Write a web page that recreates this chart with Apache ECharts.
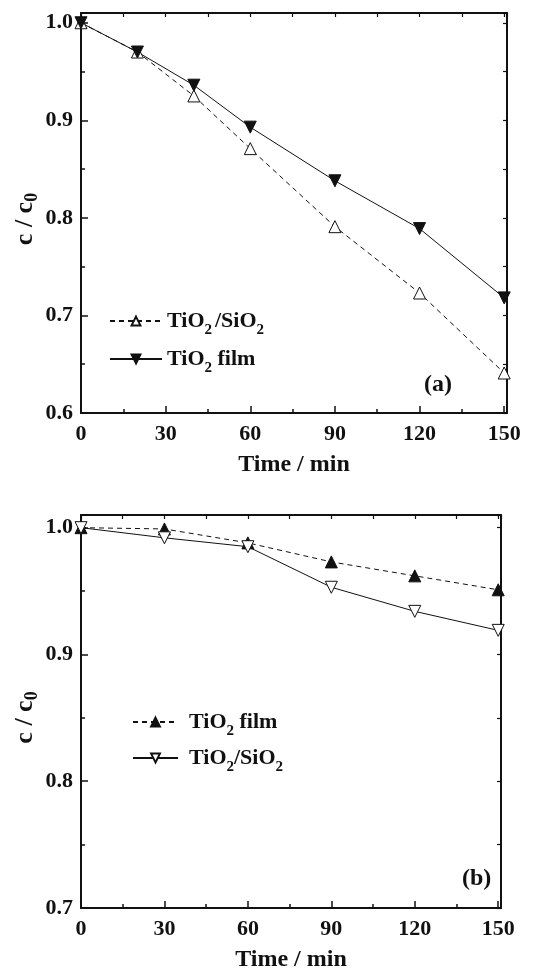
<!DOCTYPE html>
<html>
<head>
<meta charset="utf-8">
<script src="https://cdn.jsdelivr.net/npm/echarts@6/dist/echarts.min.js"></script>
<style>
  html, body { margin: 0; padding: 0; background: #fff; }
  #chart { width: 535px; height: 969px; }
</style>
</head>
<body>
<div id="chart"></div>
<script>
// Panel (a): decolourisation, TiO2/SiO2 vs TiO2 film
const timesA = [0, 20, 40, 60, 90, 120, 150];
const sio2A  = [1.0, 0.970, 0.925, 0.871, 0.791, 0.723, 0.641];
const filmA  = [1.0, 0.970, 0.936, 0.893, 0.838, 0.789, 0.718];

// Panel (b)
const timesB = [0, 30, 60, 90, 120, 150];
const filmB  = [1.0, 0.999, 0.988, 0.973, 0.962, 0.951];
const sio2B  = [1.0, 0.992, 0.985, 0.953, 0.934, 0.919];

// Tick labels
const xTickLabels  = [0, 30, 60, 90, 120, 150];
const yTickLabelsA = [0.6, 0.7, 0.8, 0.9, 1.0];
const yTickLabelsB = [0.7, 0.8, 0.9, 1.0];

const FONT = '"Liberation Serif", "Times New Roman", serif';
const INK = '#111';

const pairs = (xs, ys) => xs.map((x, i) => [x, ys[i]]);

const textRich = (size, lh) => {
  const sub = { fontFamily: FONT, fontWeight: 'bold', fontSize: Math.round(size * 0.68), color: INK, lineHeight: 14, verticalAlign: 'bottom' };
  return {
    n: { fontFamily: FONT, fontWeight: 'bold', fontSize: size, color: INK, lineHeight: lh, verticalAlign: 'middle' },
    s: sub,
    p: Object.assign({}, sub, { padding: [0, 3, 0, 0] })
  };
};

const legendText = {
  aSio2: '{n|TiO}{p|2}{n|/SiO}{s|2}',
  aFilm: '{n|TiO}{s|2}{n| film}',
  bFilm: '{n|TiO}{s|2}{n| film}',
  bSio2: '{n|TiO}{s|2}{n|/SiO}{s|2}'
};

function xAxes(gridIndex, labelMargin, nameGap) {
  return [
    {
      gridIndex, type: 'value', position: 'bottom', min: 0, max: 151, interval: 30,
      name: 'Time / min', nameLocation: 'middle', nameGap, nameMoveOverlap: false,
      nameTextStyle: { fontFamily: FONT, fontWeight: 'bold', fontSize: 24, color: INK },
      axisLine: { onZero: false, lineStyle: { color: INK, width: 2 } },
      axisTick: { inside: true, length: 7, lineStyle: { color: INK, width: 1.5 } },
      minorTick: { show: true, splitNumber: 2, length: 4, lineStyle: { color: INK, width: 1.5 } },
      splitLine: { show: false },
      axisLabel: {
        fontFamily: FONT, fontWeight: 'bold', fontSize: 22, color: INK, margin: labelMargin,
        showMaxLabel: true,
        formatter: v => xTickLabels.includes(Math.round(v * 1000) / 1000) ? String(v) : ''
      }
    },
    {
      gridIndex, type: 'value', position: 'top', min: 0, max: 151, interval: 15,
      axisLine: { onZero: false, lineStyle: { color: INK, width: 2 } },
      axisTick: { inside: true, length: 4, lineStyle: { color: INK, width: 1.2 } },
      axisLabel: { show: false }, splitLine: { show: false }
    }
  ];
}

function yAxes(gridIndex, min, labels, nameGap) {
  return [
    {
      gridIndex, type: 'value', position: 'left', min, max: 1.01, interval: 0.1,
      name: '{n|c / c}{s|0}', nameLocation: 'middle', nameGap, nameRotate: 90, nameMoveOverlap: false,
      nameTextStyle: { rich: textRich(26, 32), padding: [0, 12, 0, 0] },
      axisLine: { onZero: false, lineStyle: { color: INK, width: 2 } },
      axisTick: { inside: true, length: 7, lineStyle: { color: INK, width: 1.5 } },
      minorTick: { show: true, splitNumber: 2, length: 4, lineStyle: { color: INK, width: 1.5 } },
      splitLine: { show: false },
      axisLabel: {
        fontFamily: FONT, fontWeight: 'bold', fontSize: 22, color: INK, margin: 8,
        formatter: v => {
          const r = Math.round(v * 100) / 100;
          return labels.some(l => Math.abs(l - r) < 1e-6) ? r.toFixed(1) : '';
        }
      }
    },
    {
      gridIndex, type: 'value', position: 'right', min, max: 1.01, interval: 0.05,
      axisLine: { onZero: false, lineStyle: { color: INK, width: 2 } },
      axisTick: { inside: true, length: 4, lineStyle: { color: INK, width: 1.2 } },
      axisLabel: { show: false }, splitLine: { show: false }
    }
  ];
}

function lineSeries(id, xIdx, yIdx, data, dashed, filled, down) {
  return {
    name: id, type: 'line', xAxisIndex: xIdx, yAxisIndex: yIdx,
    data, clip: false, symbol: 'triangle', symbolSize: 12,
    symbolRotate: down ? 180 : 0,
    lineStyle: { color: INK, width: 1, type: dashed ? [5, 4] : 'solid' },
    itemStyle: { color: filled ? INK : '#fff', borderColor: INK, borderWidth: 1 },
    emphasis: { disabled: true },
    animation: false
  };
}

const option = {
  backgroundColor: '#fff',
  animation: false,
  grid: [
    { left: 81, top: 13, width: 426, height: 400, outerBoundsMode: 'none', containLabel: false },
    { left: 81, top: 515, width: 420, height: 393, outerBoundsMode: 'none', containLabel: false }
  ],
  xAxis: [...xAxes(0, 10, 40), ...xAxes(1, 10, 40)],
  yAxis: [...yAxes(0, 0.6, yTickLabelsA, 40), ...yAxes(1, 0.7, yTickLabelsB, 40)],
  legend: [
    {
      data: ['aSio2', 'aFilm'], orient: 'vertical', left: 109, top: 310, padding: 0,
      itemWidth: 52, itemHeight: 11, itemGap: 10, selectedMode: false,
      formatter: n => legendText[n], textStyle: { rich: textRich(22, 34) }
    },
    {
      data: ['bFilm', 'bSio2'], orient: 'vertical', left: 132, top: 711, padding: 0,
      itemWidth: 45, itemHeight: 11, itemGap: 8, selectedMode: false,
      formatter: n => legendText[n], textStyle: { rich: textRich(22, 34), padding: [0, 0, 0, 6] }
    }
  ],
  title: [
    { text: '(a)', left: 419, top: 368, textStyle: { fontFamily: FONT, fontWeight: 'bold', fontSize: 24, color: INK } },
    { text: '(b)', left: 457, top: 862, textStyle: { fontFamily: FONT, fontWeight: 'bold', fontSize: 24, color: INK } }
  ],
  series: [
    lineSeries('aSio2', 0, 0, pairs(timesA, sio2A), true, false, false),
    lineSeries('aFilm', 0, 0, pairs(timesA, filmA), false, true, true),
    lineSeries('bFilm', 2, 2, pairs(timesB, filmB), true, true, false),
    lineSeries('bSio2', 2, 2, pairs(timesB, sio2B), false, false, true)
  ]
};

const chart = echarts.init(document.getElementById('chart'), null, { renderer: 'canvas' });
chart.setOption(option);
</script>
</body>
</html>
